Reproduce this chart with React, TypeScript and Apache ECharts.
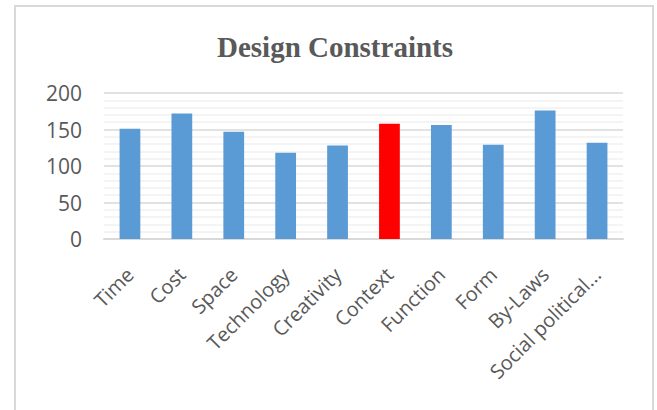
import React, { useEffect, useRef } from "react";
import * as echarts from "echarts";

const categories = ["Time", "Cost", "Space", "Technology", "Creativity", "Context", "Function", "Form", "By-Laws", "Social political..."];
const values = [151, 172, 147, 118, 128, 158, 156, 129, 176, 132];
const highlight = "Context";
const yTicks = [0, 50, 100, 150, 200];

export default function App() {
  const ref = useRef<HTMLDivElement>(null);
  useEffect(() => {
    document.body.style.margin = "0";
    const chart = echarts.init(ref.current!, null, { renderer: "svg" });
    chart.setOption({
      animation: false,
      backgroundColor: "#ffffff",
      title: {
        text: "Design Constraints",
        left: 330,
        top: 27,
        textAlign: "center",
        textStyle: { fontFamily: "Liberation Serif", fontWeight: "bold", fontSize: 29, color: "#595959" },
      },
      graphic: [
        {
          type: "rect",
          shape: { x: 15, y: 6, width: 638, height: 420 },
          style: { fill: "none", stroke: "#d9d9d9", lineWidth: 2 },
          silent: true,
        },
      ],
      grid: { left: 104, right: 34, top: 93, bottom: 171 },
      xAxis: {
        type: "category",
        data: categories,
        axisLine: { lineStyle: { color: "#d9d9d9", width: 2 } },
        axisTick: { show: false },
        axisLabel: {
          rotate: 45,
          interval: 0,
          margin: 32,
          fontFamily: "Open Sans",
          fontSize: 20,
          color: "#595959",
        },
      },
      yAxis: {
        type: "value",
        min: yTicks[0],
        max: yTicks[yTicks.length - 1],
        interval: 50,
        axisLine: { show: false },
        axisTick: { show: false },
        axisLabel: { margin: 22, fontFamily: "Open Sans", fontSize: 21, color: "#595959" },
        splitLine: { lineStyle: { color: "#d9d9d9", width: 1.5 } },
        minorTick: { show: false, splitNumber: 5 },
        minorSplitLine: { show: true, lineStyle: { color: "#f0f0f0", width: 1.5 } },
      },
      series: [
        {
          type: "bar",
          barWidth: "40%",
          data: values.map((v, i) => ({
            value: v,
            itemStyle: { color: categories[i] === highlight ? "#ff0000" : "#5b9bd5" },
          })),
        },
      ],
    });
    return () => chart.dispose();
  }, []);
  return <div ref={ref} style={{ width: 657, height: 410 }} />;
}
